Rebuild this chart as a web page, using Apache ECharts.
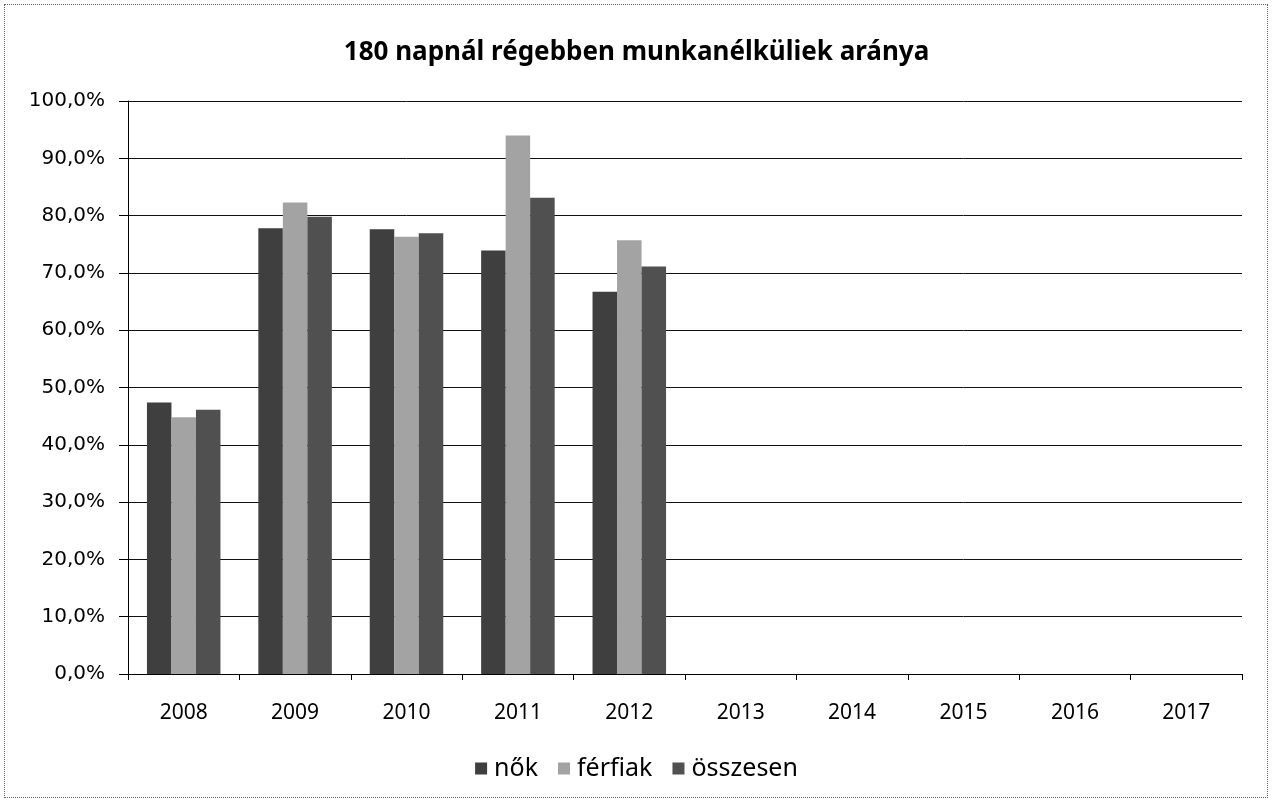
<!DOCTYPE html>
<html>
<head>
<meta charset="utf-8">
<script src="https://cdn.jsdelivr.net/npm/echarts@6/dist/echarts.min.js"></script>
<style>
html,body{margin:0;padding:0;background:#fff;}
#wrap{position:absolute;left:4px;top:4px;width:1264px;height:794px;border:1px dotted #666;box-sizing:border-box;}
#chart{position:absolute;left:0;top:0;width:1273px;height:803px;}
</style>
</head>
<body>
<div id="wrap"></div>
<div id="chart"></div>
<script>
var categories = ['2008','2009','2010','2011','2012','2013','2014','2015','2016','2017'];
var nok = [47.4, 77.8, 77.6, 73.9, 66.7, null, null, null, null, null];
var ferfiak = [44.8, 82.3, 76.3, 94.0, 75.7, null, null, null, null, null];
var osszesen = [46.1, 79.8, 76.9, 83.1, 71.1, null, null, null, null, null];
var yTicks = [0,10,20,30,40,50,60,70,80,90,100];

var FONT = 'Noto Sans';
var chart = echarts.init(document.getElementById('chart'));
function fmt(v){ return v.toFixed(1).replace('.', ',') + '%'; }
chart.setOption({
  animation: false,
  title: {
    text: '180 napnál régebben munkanélküliek aránya',
    left: 'center', top: 35,
    textStyle: {fontFamily: FONT, fontWeight: 'bold', fontSize: 26, color: '#000'}
  },
  legend: {
    bottom: 17, left: 'center',
    itemWidth: 12, itemHeight: 12, itemGap: 20,
    icon: 'rect',
    textStyle: {fontFamily: FONT, fontSize: 25, color: '#000', padding:[0,0,0,2]},
    data: ['nők','férfiak','összesen']
  },
  grid: {left: 128, right: 31, top: 101, bottom: 129, containLabel: false},
  xAxis: {
    type: 'category', data: categories,
    axisLine: {lineStyle: {color: '#000', width: 1}},
    axisTick: {show: true, length: 6, lineStyle: {color: '#000'}},
    axisLabel: {fontFamily: FONT, fontSize: 21, color: '#000', margin: 29}
  },
  yAxis: {
    type: 'value', min: 0, max: 100, interval: 10,
    axisLine: {show: true, lineStyle: {color: '#000'}},
    axisTick: {show: true, length: 9, lineStyle: {color: '#000'}},
    splitLine: {lineStyle: {color: '#111', width: 1}},
    axisLabel: {fontFamily: 'DejaVu Sans', fontSize: 20, color: '#000', margin: 23,
      formatter: function(v){ return yTicks.indexOf(v) >= 0 ? fmt(v) : ''; }}
  },
  series: [
    {name: 'nők', type: 'bar', data: nok, barGap: '0%', barCategoryGap: '34%',
     itemStyle: {color: '#3f3f3f'}},
    {name: 'férfiak', type: 'bar', data: ferfiak,
     itemStyle: {color: '#a3a3a3'}},
    {name: 'összesen', type: 'bar', data: osszesen,
     itemStyle: {color: '#505050'}}
  ]
});
</script>
</body>
</html>
